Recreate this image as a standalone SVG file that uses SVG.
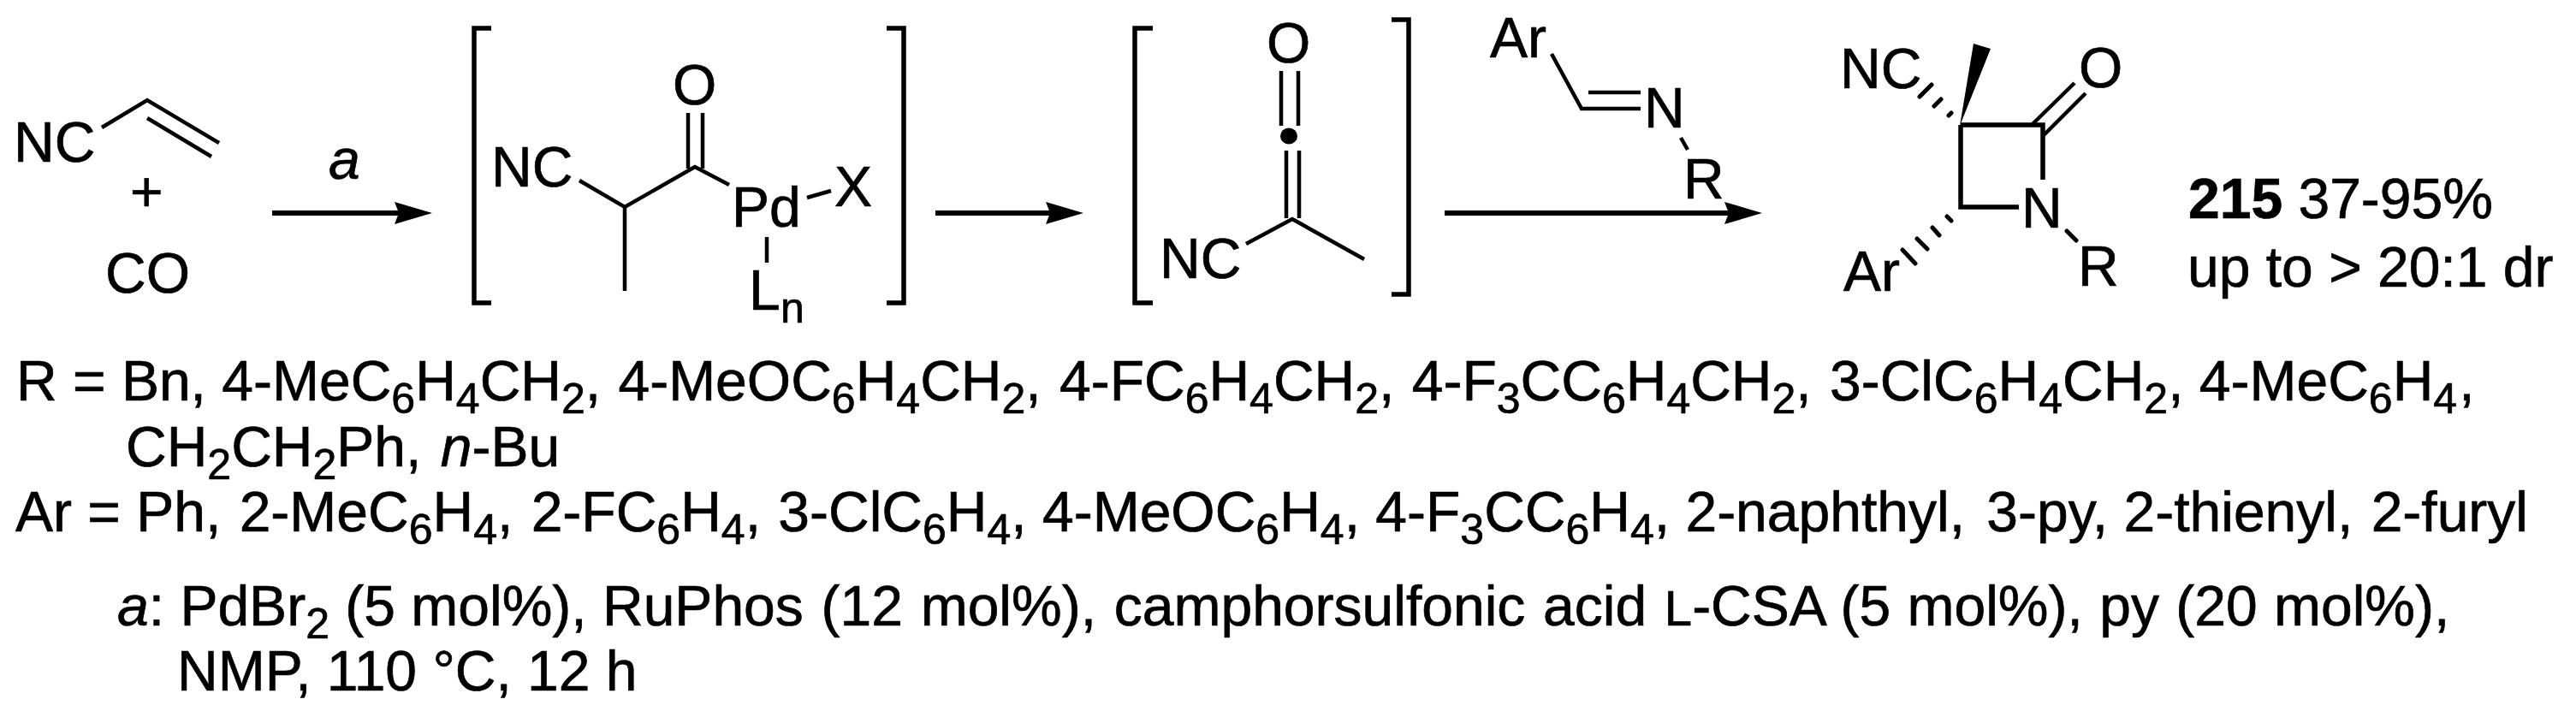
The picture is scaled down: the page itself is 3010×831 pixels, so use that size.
<svg xmlns="http://www.w3.org/2000/svg" width="3010" height="831" viewBox="0 0 3010 831">
<style>
text{font-family:"Liberation Sans",Arial,sans-serif;font-size:66px;fill:#000;stroke:#000;stroke-width:.7}
.b{fill:none;stroke:#000;stroke-width:4.5;stroke-linecap:butt;stroke-linejoin:miter}
.h{fill:none;stroke:#000;stroke-width:5;stroke-linecap:round}
.br{fill:none;stroke:#000;stroke-width:5.5}
.a{fill:none;stroke:#000;stroke-width:6;marker-end:url(#h)}
.s{font-size:50px}
.sc{font-size:58px}
.i{font-style:italic}
.d{font-weight:bold}
</style>
<defs>
<marker id="h" markerUnits="userSpaceOnUse" markerWidth="46" markerHeight="28" refX="5" refY="13" orient="auto"><path d="M0 0L44 13L0 26L5 13Z" fill="#000"/></marker>
</defs>
<rect width="3010" height="831" fill="#fff"/>
<g id="connectors">
<path class="a" d="M318 249H466"/>
<path class="a" d="M1093 249H1227"/>
<path class="a" d="M1688 249H2020"/>
</g>
<g id="reactants">
<path class="b" d="M119 149L172 117L256 167M172 138L247 183"/>
<text x="16" y="189">NC</text>
<text x="152" y="247">+</text>
<text x="123" y="342">CO</text>
</g>
<g id="label-a"><text class="i" x="384" y="209">a</text></g>
<g id="pd-intermediate">
<path class="br" d="M574 33H554V354H574M1036 33H1056V354H1036"/>
<path class="b" d="M677 211L730 242L812 195L852 216M730 242V340M804 132V197M821 132V197M943 231L971 223M896 277V307"/>
<text x="574" y="218">NC</text>
<text x="786" y="122">O</text>
<text x="855" y="265">Pd</text>
<text x="975" y="241">X</text>
<text x="875" y="362">L</text>
<text class="s" x="912" y="377">n</text>
</g>
<g id="ketene">
<path class="br" d="M1347 33H1326V354H1347M1626 23H1646V344H1626"/>
<path class="b" d="M1497 83V147M1517 83V147M1503 176V255M1518 176V255M1456 285L1510 256L1594 303"/>
<ellipse cx="1506" cy="159" rx="10" ry="9.5" fill="#000"/>
<text x="1480" y="73">O</text>
<text x="1355" y="325">NC</text>
</g>
<g id="imine">
<path class="b" d="M1813 63L1848 127H1917M1856 108H1917M1964 161L1972 175"/>
<text x="1741" y="67">Ar</text>
<text x="1921" y="149">N</text>
<text x="1967" y="232">R</text>
</g>
<g id="product">
<path class="br" d="M2291 146H2387V210M2291 146V242H2359"/>
<polygon points="2290,147 2306,51 2326,57" fill="#000"/>
<path class="b" d="M2375 145L2424 97M2388 158L2437 109"/>
<path class="h" d="M2277 135L2280 132M2260 124L2268 116M2243 113L2257 99M2275 253L2280 258M2258 266L2266 275M2240 279L2252 291M2223 292L2238 308M2415 270L2426 281"/>
<text x="2150" y="103">NC</text>
<text x="2429" y="102">O</text>
<text x="2362" y="266">N</text>
<text x="2428" y="334">R</text>
<text x="2154" y="340">Ar</text>
</g>
<g id="yield">
<text x="2557" y="255"><tspan class="d">215</tspan> 37-95%</text>
<text x="2556" y="335">up to &gt; 20:1 dr</text>
</g>
<g id="conditions">
<text x="19" y="468">R = Bn, 4-MeC<tspan class="s" dy="15">6</tspan><tspan dy="-15">H</tspan><tspan class="s" dy="15">4</tspan><tspan dy="-15">CH</tspan><tspan class="s" dy="15">2</tspan><tspan dy="-15">, </tspan><tspan dx="2">4-MeOC</tspan><tspan class="s" dy="15">6</tspan><tspan dy="-15">H</tspan><tspan class="s" dy="15">4</tspan><tspan dy="-15">CH</tspan><tspan class="s" dy="15">2</tspan><tspan dy="-15">, </tspan><tspan dx="3">4-FC</tspan><tspan class="s" dy="15">6</tspan><tspan dy="-15">H</tspan><tspan class="s" dy="15">4</tspan><tspan dy="-15">CH</tspan><tspan class="s" dy="15">2</tspan><tspan dy="-15">, </tspan><tspan dx="2">4-F</tspan><tspan class="s" dy="15">3</tspan><tspan dy="-15">CC</tspan><tspan class="s" dy="15">6</tspan><tspan dy="-15">H</tspan><tspan class="s" dy="15">4</tspan><tspan dy="-15">CH</tspan><tspan class="s" dy="15">2</tspan><tspan dy="-15">, </tspan><tspan dx="3">3-ClC</tspan><tspan class="s" dy="15">6</tspan><tspan dy="-15">H</tspan><tspan class="s" dy="15">4</tspan><tspan dy="-15">CH</tspan><tspan class="s" dy="15">2</tspan><tspan dy="-15">, 4-MeC</tspan><tspan class="s" dy="15">6</tspan><tspan dy="-15">H</tspan><tspan class="s" dy="15">4</tspan><tspan dy="-15" dx="2">,</tspan></text>
<text x="147" y="545">CH<tspan class="s" dy="15">2</tspan><tspan dy="-15">CH</tspan><tspan class="s" dy="15">2</tspan><tspan dy="-15">Ph, </tspan><tspan class="i" dx="4">n</tspan>-Bu</text>
<text x="18" y="621">Ar = Ph, <tspan dx="3">2-MeC</tspan><tspan class="s" dy="15">6</tspan><tspan dy="-15">H</tspan><tspan class="s" dy="15">4</tspan><tspan dy="-15">, </tspan><tspan dx="3">2-FC</tspan><tspan class="s" dy="15">6</tspan><tspan dy="-15">H</tspan><tspan class="s" dy="15">4</tspan><tspan dy="-15">, </tspan><tspan dx="2">3-ClC</tspan><tspan class="s" dy="15">6</tspan><tspan dy="-15">H</tspan><tspan class="s" dy="15">4</tspan><tspan dy="-15">, 4-MeOC</tspan><tspan class="s" dy="15">6</tspan><tspan dy="-15">H</tspan><tspan class="s" dy="15">4</tspan><tspan dy="-15">, 4-F</tspan><tspan class="s" dy="15">3</tspan><tspan dy="-15">CC</tspan><tspan class="s" dy="15">6</tspan><tspan dy="-15">H</tspan><tspan class="s" dy="15">4</tspan><tspan dy="-15">, 2-naphthyl, </tspan><tspan dx="7">3-py, 2-thienyl, </tspan><tspan dx="3">2-furyl</tspan></text>
<text x="137" y="731"><tspan class="i">a</tspan>: PdBr<tspan class="s" dy="15">2</tspan><tspan dy="-15"> (5 mol%), </tspan><tspan style="word-spacing:2.4px">RuPhos (12 mol%), camphorsulfonic acid </tspan><tspan class="sc">L</tspan><tspan style="word-spacing:1px">-CSA (5 mol%), py (20 mol%),</tspan></text>
<text x="207" y="807">NMP, 110 °C, 12 h</text>
</g>
</svg>
